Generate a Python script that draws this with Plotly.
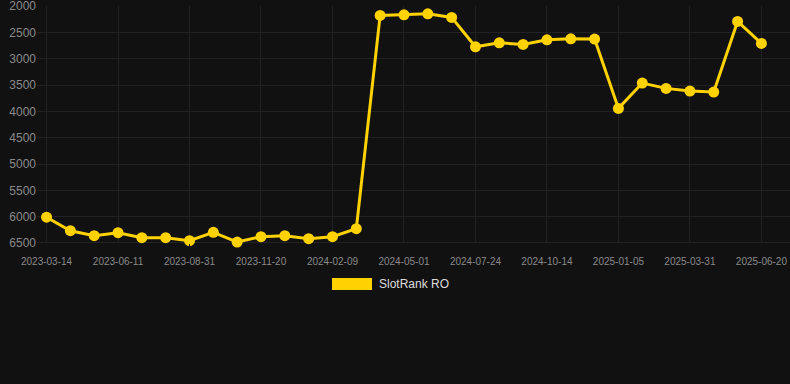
import plotly.graph_objects as go

dates = [
    "2023-03-14", "2023-04-13", "2023-05-13", "2023-06-11", "2023-07-08", "2023-08-04",
    "2023-08-31", "2023-09-27", "2023-10-24", "2023-11-20", "2023-12-17", "2024-01-13",
    "2024-02-09", "2024-03-07", "2024-04-04", "2024-05-01", "2024-05-29", "2024-06-26",
    "2024-07-24", "2024-08-20", "2024-09-17", "2024-10-14", "2024-11-11", "2024-12-09",
    "2025-01-05", "2025-02-02", "2025-03-03", "2025-03-31", "2025-04-27", "2025-05-24",
    "2025-06-20",
]
rank = [
    6010, 6267, 6362, 6305, 6400, 6400, 6457, 6298, 6482, 6381, 6362, 6419, 6381, 6229,
    2177, 2165, 2146, 2215, 2773, 2697, 2728, 2640, 2621, 2627, 3943, 3462, 3563, 3614,
    3633, 2291, 2709,
]
tick_labels = dates[::3]
y_ticks = [2000, 2500, 3000, 3500, 4000, 4500, 5000, 5500, 6000, 6500]
series_name = "SlotRank RO"

COLOR = "#FFD200"
BG = "#111111"
FONT = "Arial, Liberation Sans, sans-serif"

fig = go.Figure()
fig.add_trace(go.Scatter(
    x=dates, y=rank, mode="lines+markers", name=series_name,
    line=dict(color=COLOR, width=3),
    marker=dict(color=COLOR, size=11),
    cliponaxis=False,
    showlegend=False,
))

W, H = 790, 384
L, R, T, B = 37, 0, 6, 141
pw, ph = W - L - R, H - T - B

def px_x(x):
    return (x - L) / pw

def px_y(y):
    return (H - B - y) / ph

fig.update_layout(
    width=W, height=H,
    margin=dict(l=L, r=R, t=T, b=B),
    paper_bgcolor=BG, plot_bgcolor=BG,
    font=dict(family=FONT),
    xaxis=dict(
        type="category",
        range=[-0.4, 31.2],
        tickmode="array", tickvals=tick_labels, ticktext=tick_labels,
        showgrid=True, gridcolor="#222222", gridwidth=1,
        tickfont=dict(size=10, color="#8a8a8a"),
        zeroline=False, showline=False,
        ticks="outside", ticklen=9, tickcolor=BG,
    ),
    yaxis=dict(
        range=[6500.5, 1998],
        tickvals=y_ticks,
        showgrid=True, gridcolor="#222222", gridwidth=1,
        tickfont=dict(size=12, color="#8a8a8a"),
        ticklabeloverflow="allow",
        zeroline=False, showline=False, ticks="",
    ),
    shapes=[
        dict(type="line", xref="paper", yref="y", x0=0, x1=1, y0=6500, y1=6500,
             line=dict(color="#333333", width=1), layer="below"),
        dict(type="rect", xref="paper", yref="paper",
             x0=px_x(332), x1=px_x(372), y0=px_y(290), y1=px_y(278),
             fillcolor=COLOR, line=dict(width=0)),
    ],
    annotations=[
        dict(text=series_name, xref="paper", yref="paper", x=px_x(377), y=px_y(284),
             xanchor="left", yanchor="middle", showarrow=False,
             font=dict(size=12, color="#dddddd", family=FONT)),
    ],
)

fig.write_html("out.html")
